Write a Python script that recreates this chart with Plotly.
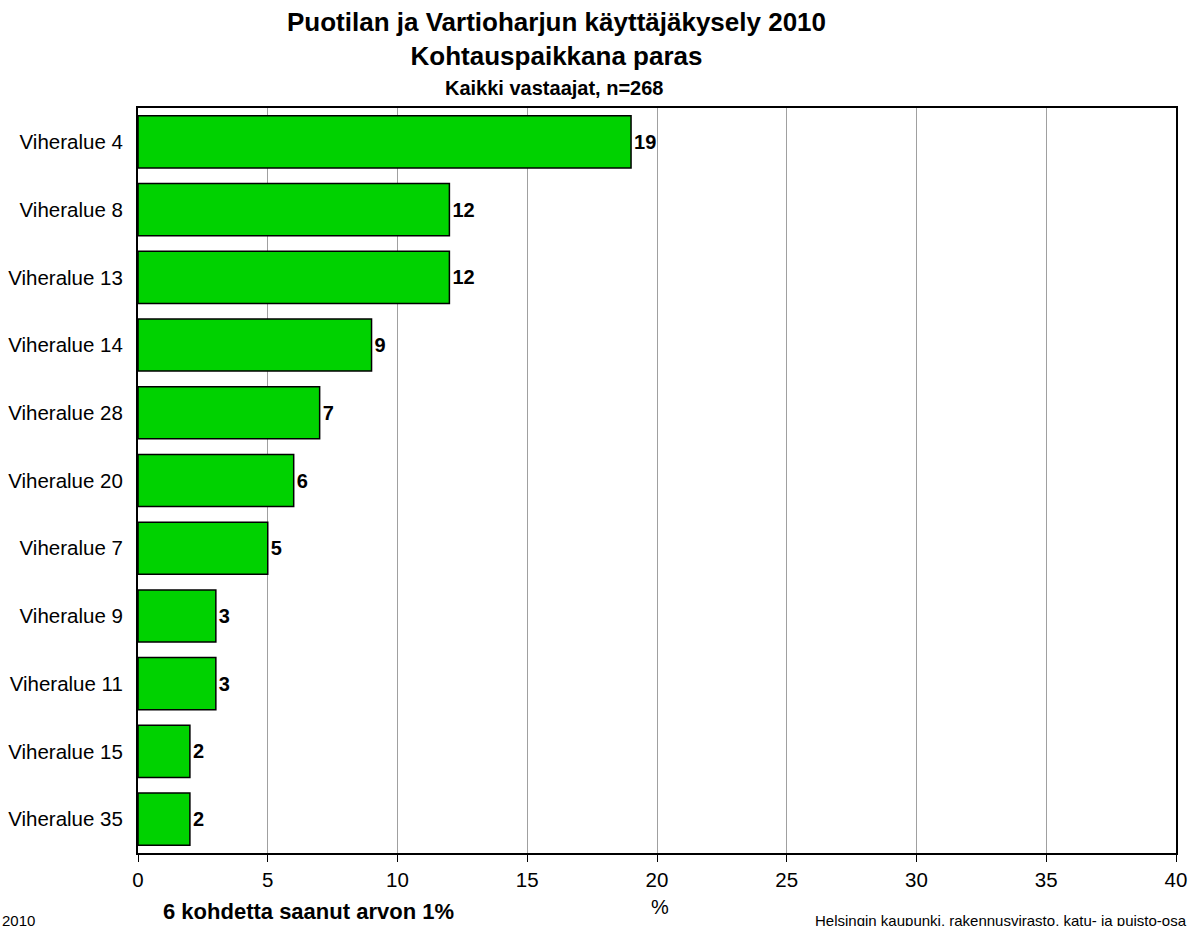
import plotly.graph_objects as go

categories = ["Viheralue 4", "Viheralue 8", "Viheralue 13", "Viheralue 14", "Viheralue 28",
              "Viheralue 20", "Viheralue 7", "Viheralue 9", "Viheralue 11", "Viheralue 15", "Viheralue 35"]
values = [19, 12, 12, 9, 7, 6, 5, 3, 3, 2, 2]
x_ticks = [0, 5, 10, 15, 20, 25, 30, 35, 40]

FONT = "Liberation Sans, Arial, sans-serif"

# figure geometry (page body margin removed via post_script)
W, H = 1190, 926
OFF = 0
L, T, R, B = 138, 108, 14, 73
PW, PH = W - L - R, H - T - B


def px(x):
    return (x - OFF - L) / PW


def py(y):
    return 1 - (y - OFF - T) / PH


fig = go.Figure(go.Bar(
    y=categories, x=values, orientation="h",
    marker=dict(color="#00d200", line=dict(color="black", width=1.5)),
    width=0.77,
    text=[f"<b>{v}</b>" for v in values], textposition="outside",
    textfont=dict(family=FONT, size=20, color="black"),
    cliponaxis=False,
))

ann = [
    dict(text="<b>Puotilan ja Vartioharjun käyttäjäkysely 2010<br>Kohtauspaikkana paras</b>",
         x=px(556), y=py(39), font=dict(size=26)),
    dict(text="<b>Kaikki vastaajat, n=268</b>", x=px(554), y=py(88), font=dict(size=20)),
    dict(text="%", x=px(660), y=py(907), font=dict(size=20)),
    dict(text="<b>6 kohdetta saanut arvon 1%</b>", x=px(308), y=py(911), font=dict(size=22)),
    dict(text="2010", x=px(0), xanchor="left", y=py(920), font=dict(size=15)),
    dict(text="Helsingin kaupunki, rakennusvirasto, katu- ja puisto-osa", x=px(1189), xanchor="right",
         y=py(920), font=dict(size=15)),
]
for a in ann:
    a.setdefault("xanchor", "center")
    a.update(xref="paper", yref="paper", yanchor="middle", showarrow=False)

fig.update_layout(
    width=W, height=H,
    paper_bgcolor="white", plot_bgcolor="white",
    margin=dict(l=L, r=R, t=T, b=B),
    font=dict(family=FONT, color="black"),
    showlegend=False,
    xaxis=dict(range=[0, 40], tickvals=x_ticks, showgrid=True, gridcolor="#a0a0a0", gridwidth=1,
               showline=True, linecolor="black", linewidth=2, mirror=True,
               ticks="outside", ticklen=7, tickcolor="black", tickfont=dict(size=20.5),
               zeroline=False, automargin=False),
    yaxis=dict(categoryorder="array", categoryarray=categories[::-1],
               showline=True, linecolor="black", linewidth=2, mirror=True,
               ticks="", tickfont=dict(size=20.5), ticklabelstandoff=9, automargin=False),
    annotations=ann,
)

fig.write_html(
    "out.html",
    config={"displayModeBar": False},
    post_script="document.body.style.margin='0';document.body.style.overflow='hidden';"
                "document.documentElement.style.overflow='hidden';",
)
